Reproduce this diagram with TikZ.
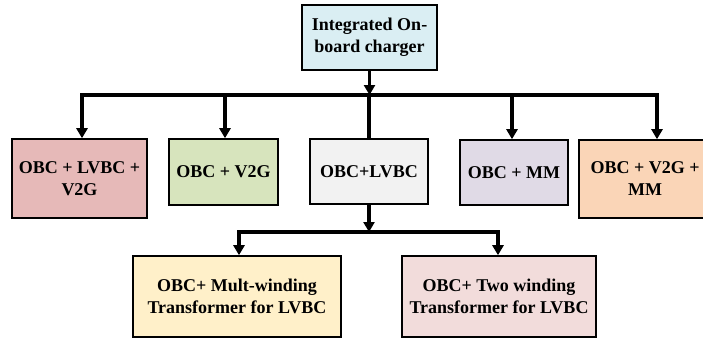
\documentclass[tikz,border=0pt]{standalone}
\usepackage{fontspec}
\setmainfont{Liberation Serif}
\usetikzlibrary{arrows.meta}
\definecolor{cTop}{HTML}{DAEEF3}
\definecolor{cA}{HTML}{E6B9B8}
\definecolor{cB}{HTML}{D7E4BD}
\definecolor{cC}{HTML}{F2F2F2}
\definecolor{cD}{HTML}{E0DAE6}
\definecolor{cE}{HTML}{FAD5B7}
\definecolor{cF}{HTML}{FFF0C9}
\definecolor{cG}{HTML}{F2DCDB}
\tikzset{
  box/.style={draw=black, line width=1.6pt, align=center, inner sep=0pt,
    font=\fontsize{18}{22}\selectfont\bfseries},
  conn/.style={line width=3.4pt, line cap=rect},
  arr/.style={line width=3.4pt, -{Triangle[length=10pt,width=11pt]}},
}
\begin{document}
\begin{tikzpicture}[x=1pt,y=-1pt]
\useasboundingbox (0,0) rectangle (703,340);
\clip (0,0) rectangle (703,340);
\node[box, fill=cTop, minimum width=135pt, minimum height=65pt] (top) at (369.5,37.5) {Integrated On-\\board charger};
\node[box, fill=cA, minimum width=135pt, minimum height=79pt] (b1) at (79.5,178.5) {OBC + LVBC +\\V2G};
\node[box, fill=cB, minimum width=109pt, minimum height=66pt] (b2) at (223.5,172) {OBC + V2G};
\node[box, fill=cC, minimum width=118pt, minimum height=65pt] (b3) at (369,171.5) {OBC+LVBC};
\node[box, fill=cD, minimum width=108pt, minimum height=65pt] (b4) at (514,172.5) {OBC + MM};
\node[box, fill=cE, minimum width=132pt, minimum height=78pt] (b5) at (645,179) {OBC + V2G +\\MM};
\node[box, fill=cF, minimum width=208pt, minimum height=81pt] (l1) at (237,296.5) {OBC+ Mult-winding\\Transformer for LVBC};
\node[box, fill=cG, minimum width=194pt, minimum height=81pt] (l2) at (499,296.5) {OBC+ Two winding\\Transformer for LVBC};
\coordinate (busL) at (82,95);
\coordinate (busR) at (657,95);
\coordinate (busM) at (369,95);
\coordinate (bus2L) at (239,232);
\coordinate (bus2R) at (498,232);
\coordinate (bus2M) at (369,232);
\draw[arr] (top.south) -- (top.south |- busL);
\draw[conn] (busL) -- (busR);
\draw[arr] (busL) -- (busL |- b1.north);
\draw[arr] (225,95) -- (225,95 |- b2.north);
\draw[conn, line cap=butt] (busM) -- (busM |- b3.north);
\draw[arr] (512,95) -- (512,95 |- b4.north);
\draw[arr] (busR) -- (busR |- b5.north);
\draw[arr] (b3.south) -- (bus2M);
\draw[conn] (bus2L) -- (bus2R);
\draw[arr] (bus2L) -- (bus2L |- l1.north);
\draw[arr] (bus2R) -- (bus2R |- l2.north);
\end{tikzpicture}
\end{document}
